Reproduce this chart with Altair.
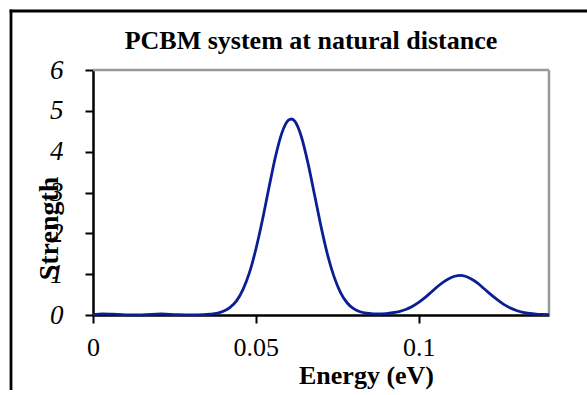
import altair as alt
import pandas as pd

energy = [0.000, 0.003, 0.006, 0.010, 0.015, 0.021, 0.026, 0.030, 0.034,
          0.036, 0.038, 0.040, 0.042, 0.044, 0.046, 0.048, 0.050, 0.052,
          0.054, 0.056, 0.058, 0.060, 0.061, 0.062, 0.064, 0.066, 0.068,
          0.070, 0.072, 0.074, 0.076, 0.078, 0.080, 0.082, 0.084, 0.086,
          0.088, 0.090, 0.092, 0.094, 0.096, 0.098, 0.100, 0.102, 0.104,
          0.106, 0.108, 0.110, 0.112, 0.113, 0.114, 0.116, 0.118, 0.120,
          0.122, 0.124, 0.126, 0.128, 0.130, 0.132, 0.134, 0.136, 0.138, 0.140]
strength = [0.01, 0.03, 0.02, 0.005, 0.005, 0.025, 0.008, 0.005, 0.01,
            0.02, 0.04, 0.09, 0.18, 0.34, 0.615, 1.03, 1.61, 2.32,
            3.11, 3.87, 4.46, 4.77, 4.80, 4.74, 4.36, 3.72, 2.95,
            2.17, 1.48, 0.94, 0.55, 0.30, 0.155, 0.08, 0.045, 0.03,
            0.025, 0.035, 0.055, 0.085, 0.135, 0.21, 0.31, 0.43, 0.57,
            0.71, 0.83, 0.92, 0.965, 0.97, 0.955, 0.89, 0.785, 0.65,
            0.51, 0.38, 0.265, 0.175, 0.11, 0.065, 0.037, 0.02, 0.012, 0.008]

x_ticks = [0, 0.05, 0.1]
y_ticks = [0, 1, 2, 3, 4, 5, 6]
title_text = "PCBM system at natural distance"

W, H = 456, 245
FONT = "Liberation Serif"

df = pd.DataFrame({"energy": energy, "strength": strength})

line = alt.Chart(df).mark_line(
    color="#0b1f94", strokeWidth=2.8, interpolate="monotone"
).encode(
    x=alt.X("energy:Q",
            scale=alt.Scale(domain=[0, 0.14], nice=False, zero=False),
            axis=alt.Axis(values=x_ticks, format="~g", title="Energy (eV)",
                          labelFont=FONT, labelFontSize=26, labelColor="black",
                          labelFlush=False, labelPadding=11,
                          tickSize=8, tickColor="black", tickWidth=2,
                          domainColor="black", domainWidth=2.5,
                          grid=False,
                          titleFont=FONT, titleFontSize=26, titleFontWeight="bold",
                          titleColor="black", titleX=273, titleY=68,
                          titleBaseline="alphabetic", titleAnchor="start",
                          titleAlign="center")),
    y=alt.Y("strength:Q",
            scale=alt.Scale(domain=[0, 6], nice=False),
            axis=alt.Axis(values=y_ticks, title="Strength",
                          labelFont=FONT, labelFontSize=27, labelFontStyle="italic",
                          labelColor="black", labelFlush=False, labelPadding=22,
                          tickSize=8, tickColor="black", tickWidth=2,
                          domainColor="black", domainWidth=2.5,
                          grid=False,
                          titleFont=FONT, titleFontSize=28, titleFontWeight="bold",
                          titleColor="black", titleX=-36, titleY=158,
                          titleAngle=-90, titleBaseline="alphabetic",
                          titleAnchor="start", titleAlign="center")),
)

one = pd.DataFrame({"k": [0]})

frame_left = alt.Chart(one).mark_rule(color="black", strokeWidth=2.8).encode(
    x=alt.value(-82), y=alt.value(-60.4), y2=alt.value(H + 90)
)
frame_top = alt.Chart(one).mark_rule(color="black", strokeWidth=2.8).encode(
    x=alt.value(-83.4), x2=alt.value(W + 60), y=alt.value(-59)
)

top_rule = alt.Chart(one).mark_rule(color="#999999", strokeWidth=2.5).encode(
    x=alt.value(0), x2=alt.value(W), y=alt.value(0)
)
right_rule = alt.Chart(one).mark_rule(color="#999999", strokeWidth=2.5).encode(
    x=alt.value(W), y=alt.value(0), y2=alt.value(H)
)

title = alt.Chart(pd.DataFrame({"t": [title_text]})).mark_text(
    font=FONT, fontSize=26, fontWeight="bold", color="black",
    align="center", baseline="alphabetic"
).encode(
    text="t:N", x=alt.value(W / 2 - 10), y=alt.value(-21)
)

chart = alt.layer(frame_left, frame_top, top_rule, right_rule, line, title).properties(
    width=W, height=H,
    autosize=alt.AutoSizeParams(type="none"),
    padding={"left": 93, "top": 70, "right": 38, "bottom": 75},
).configure_view(stroke=None).configure(background="white")

chart.save("out.html", embed_options={"renderer": "svg", "actions": False})
